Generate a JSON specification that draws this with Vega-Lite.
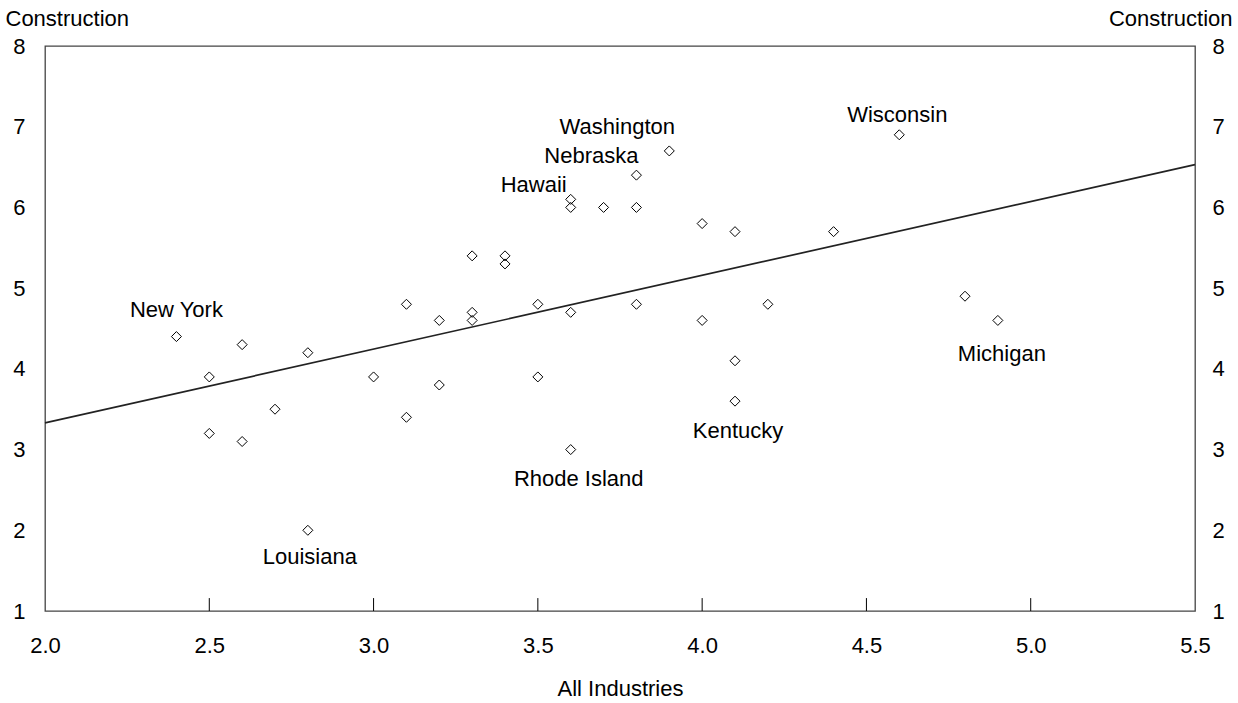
{
  "$schema": "https://vega.github.io/schema/vega-lite/v6.json",
  "autosize": {"type": "none"},
  "width": 1150,
  "height": 565,
  "padding": {"left": 45, "top": 46, "right": 43, "bottom": 92},
  "background": "white",
  "config": {
    "view": {"stroke": "#444444", "strokeWidth": 1.3},
    "font": "Liberation Sans",
    "axis": {
      "grid": false,
      "domain": false,
      "labelFont": "Liberation Sans",
      "labelFontSize": 22,
      "labelColor": "#000000",
      "titleFont": "Liberation Sans",
      "titleFontSize": 22,
      "titleFontWeight": "normal",
      "titleColor": "#000000"
    },
    "text": {"font": "Liberation Sans", "fontSize": 22, "color": "#000000"}
  },
  "datasets": {
    "states": [
      {"state": "New York", "all": 2.4, "construction": 4.4},
      {"state": "", "all": 2.5, "construction": 3.9},
      {"state": "", "all": 2.5, "construction": 3.2},
      {"state": "", "all": 2.6, "construction": 4.3},
      {"state": "", "all": 2.6, "construction": 3.1},
      {"state": "", "all": 2.7, "construction": 3.5},
      {"state": "", "all": 2.8, "construction": 4.2},
      {"state": "Louisiana", "all": 2.8, "construction": 2.0},
      {"state": "", "all": 3.0, "construction": 3.9},
      {"state": "", "all": 3.1, "construction": 4.8},
      {"state": "", "all": 3.1, "construction": 3.4},
      {"state": "", "all": 3.2, "construction": 4.6},
      {"state": "", "all": 3.2, "construction": 3.8},
      {"state": "", "all": 3.3, "construction": 5.4},
      {"state": "", "all": 3.3, "construction": 4.7},
      {"state": "", "all": 3.3, "construction": 4.6},
      {"state": "", "all": 3.4, "construction": 5.4},
      {"state": "", "all": 3.4, "construction": 5.3},
      {"state": "", "all": 3.5, "construction": 4.8},
      {"state": "", "all": 3.5, "construction": 3.9},
      {"state": "Hawaii", "all": 3.6, "construction": 6.1},
      {"state": "", "all": 3.6, "construction": 6.0},
      {"state": "", "all": 3.6, "construction": 4.7},
      {"state": "Rhode Island", "all": 3.6, "construction": 3.0},
      {"state": "", "all": 3.7, "construction": 6.0},
      {"state": "Nebraska", "all": 3.8, "construction": 6.4},
      {"state": "", "all": 3.8, "construction": 6.0},
      {"state": "", "all": 3.8, "construction": 4.8},
      {"state": "Washington", "all": 3.9, "construction": 6.7},
      {"state": "", "all": 4.0, "construction": 5.8},
      {"state": "", "all": 4.0, "construction": 4.6},
      {"state": "", "all": 4.1, "construction": 5.7},
      {"state": "", "all": 4.1, "construction": 4.1},
      {"state": "Kentucky", "all": 4.1, "construction": 3.6},
      {"state": "", "all": 4.2, "construction": 4.8},
      {"state": "", "all": 4.4, "construction": 5.7},
      {"state": "Wisconsin", "all": 4.6, "construction": 6.9},
      {"state": "", "all": 4.8, "construction": 4.9},
      {"state": "Michigan", "all": 4.9, "construction": 4.6}
    ],
    "fit": [
      {"all": 2.0, "construction": 3.33},
      {"all": 5.5, "construction": 6.53}
    ],
    "xticks": [
      {"all": 2.5}, {"all": 3.0}, {"all": 3.5}, {"all": 4.0}, {"all": 4.5}, {"all": 5.0}
    ]
  },
  "resolve": {"axis": {"y": "independent"}},
  "encoding": {
    "x": {
      "field": "all", "type": "quantitative",
      "scale": {"domain": [2, 5.5], "nice": false, "zero": false},
      "axis": {
        "title": "All Industries",
        "values": [2, 2.5, 3, 3.5, 4, 4.5, 5, 5.5],
        "format": ".1f",
        "labelFlush": false,
        "ticks": false,
        "labelPadding": 24,
        "titleY": 77,
        "titleBaseline": "middle"
      }
    }
  },
  "layer": [
    {
      "data": {"name": "states"},
      "mark": {"type": "point", "shape": "diamond", "filled": false, "stroke": "#000000", "strokeWidth": 1, "size": 100, "opacity": 1},
      "encoding": {
        "y": {
          "field": "construction", "type": "quantitative",
          "scale": {"domain": [1, 8], "nice": false, "zero": false},
          "axis": {
            "orient": "left",
            "title": "Construction",
            "values": [1, 2, 3, 4, 5, 6, 7, 8],
            "ticks": false,
            "labelPadding": 20,
            "labelFlush": false,
            "titleAngle": 0,
            "titleAlign": "left",
            "titleBaseline": "middle",
            "titleX": -40,
            "titleY": -28
          }
        }
      }
    },
    {
      "data": {"name": "fit"},
      "mark": {"type": "line", "color": "#222222", "strokeWidth": 1.7},
      "encoding": {
        "y": {
          "field": "construction", "type": "quantitative",
          "axis": {
            "orient": "right",
            "title": "Construction",
            "values": [1, 2, 3, 4, 5, 6, 7, 8],
            "ticks": false,
            "labelPadding": 17,
            "labelFlush": false,
            "titleAngle": 0,
            "titleAlign": "right",
            "titleBaseline": "middle",
            "titleX": 37,
            "titleY": -28
          }
        }
      }
    },
    {
      "data": {"name": "xticks"},
      "mark": {"type": "rule", "color": "#000000", "strokeWidth": 1},
      "encoding": {
        "y": {"datum": 1, "type": "quantitative", "axis": null},
        "y2": {"datum": 1.16}
      }
    },
    {
      "data": {"name": "states"},
      "transform": [{"filter": "datum.state == 'New York'"}],
      "mark": {"type": "text", "dx": 0, "dy": -27, "baseline": "middle"},
      "encoding": {"y": {"field": "construction", "type": "quantitative", "axis": null}, "text": {"field": "state"}}
    },
    {
      "data": {"name": "states"},
      "transform": [{"filter": "datum.state == 'Washington'"}],
      "mark": {"type": "text", "dx": -52, "dy": -24, "baseline": "middle"},
      "encoding": {"y": {"field": "construction", "type": "quantitative", "axis": null}, "text": {"field": "state"}}
    },
    {
      "data": {"name": "states"},
      "transform": [{"filter": "datum.state == 'Nebraska'"}],
      "mark": {"type": "text", "dx": -45, "dy": -19, "baseline": "middle"},
      "encoding": {"y": {"field": "construction", "type": "quantitative", "axis": null}, "text": {"field": "state"}}
    },
    {
      "data": {"name": "states"},
      "transform": [{"filter": "datum.state == 'Hawaii'"}],
      "mark": {"type": "text", "dx": -37, "dy": -14, "baseline": "middle"},
      "encoding": {"y": {"field": "construction", "type": "quantitative", "axis": null}, "text": {"field": "state"}}
    },
    {
      "data": {"name": "states"},
      "transform": [{"filter": "datum.state == 'Wisconsin'"}],
      "mark": {"type": "text", "dx": -2, "dy": -20, "baseline": "middle"},
      "encoding": {"y": {"field": "construction", "type": "quantitative", "axis": null}, "text": {"field": "state"}}
    },
    {
      "data": {"name": "states"},
      "transform": [{"filter": "datum.state == 'Michigan'"}],
      "mark": {"type": "text", "dx": 4, "dy": 34, "baseline": "middle"},
      "encoding": {"y": {"field": "construction", "type": "quantitative", "axis": null}, "text": {"field": "state"}}
    },
    {
      "data": {"name": "states"},
      "transform": [{"filter": "datum.state == 'Kentucky'"}],
      "mark": {"type": "text", "dx": 3, "dy": 30, "baseline": "middle"},
      "encoding": {"y": {"field": "construction", "type": "quantitative", "axis": null}, "text": {"field": "state"}}
    },
    {
      "data": {"name": "states"},
      "transform": [{"filter": "datum.state == 'Rhode Island'"}],
      "mark": {"type": "text", "dx": 8, "dy": 29, "baseline": "middle"},
      "encoding": {"y": {"field": "construction", "type": "quantitative", "axis": null}, "text": {"field": "state"}}
    },
    {
      "data": {"name": "states"},
      "transform": [{"filter": "datum.state == 'Louisiana'"}],
      "mark": {"type": "text", "dx": 2, "dy": 27, "baseline": "middle"},
      "encoding": {"y": {"field": "construction", "type": "quantitative", "axis": null}, "text": {"field": "state"}}
    }
  ]
}
